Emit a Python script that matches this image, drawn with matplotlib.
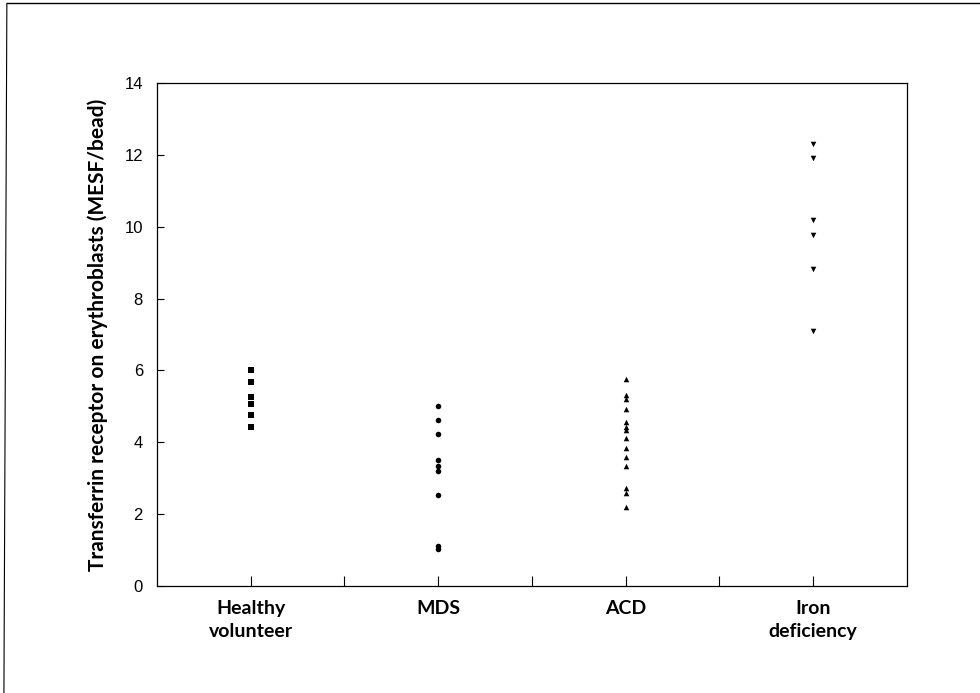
import numpy as np
import matplotlib
matplotlib.use("Agg")
import matplotlib.pyplot as plt
from matplotlib.lines import Line2D

# groups and values (MESF/bead)
groups = ["Healthy\nvolunteer", "MDS", "ACD", "Iron\ndeficiency"]
healthy = [6.01, 5.67, 5.27, 5.08, 4.76, 4.43]
mds = [5.02, 4.62, 4.22, 3.51, 3.34, 3.21, 2.52, 1.11, 1.02]
acd = [5.76, 5.32, 5.20, 4.93, 4.56, 4.43, 4.34, 4.11, 3.83, 3.58, 3.34,
       2.72, 2.58, 2.21]
iron = [12.32, 11.93, 10.19, 9.77, 8.82, 7.10]
markers = ["s", "o", "^", "v"]
sizes = [18, 16, 16, 16]
yticks = [0, 2, 4, 6, 8, 10, 12, 14]

fig = plt.figure(figsize=(9.8, 6.93), dpi=100)
ax = fig.add_axes([0.160, 0.1544, 0.7655, 0.7256])

for i, (vals, m, s) in enumerate(zip([healthy, mds, acd, iron], markers, sizes)):
    ax.scatter(np.full(len(vals), i + 1), vals, marker=m, s=s,
               color="black", linewidths=0)

ax.set_xlim(0.5, 4.5)
ax.set_ylim(0, 14)
ax.set_yticks(yticks)
ax.set_yticklabels([str(t) for t in yticks], fontsize=12,
                   family="Liberation Sans")
ax.set_xticks([1, 2, 3, 4])
ax.set_xticklabels(groups, fontsize=14, fontweight="bold", family="Lato",
                   linespacing=1.45)
ax.set_xticks([1.5, 2.5, 3.5], minor=True)
ax.tick_params(axis="x", which="both", direction="in", length=7, width=0.8,
               pad=10)
ax.tick_params(axis="y", direction="in", length=5, width=0.8, pad=10)
ax.set_ylabel("Transferrin receptor on erythroblasts (MESF/bead)",
              fontsize=15, fontweight="bold", family="Lato", labelpad=12)
for sp in ax.spines.values():
    sp.set_linewidth(0.9)

# page frame (top and left edges only)
fig.add_artist(Line2D([0.007, 1.0], [0.995, 0.995], color="black", lw=1.0))
fig.add_artist(Line2D([0.007, 0.004], [0.995, 0.0], color="black", lw=0.8))

fig.savefig("out.png", dpi=100)
